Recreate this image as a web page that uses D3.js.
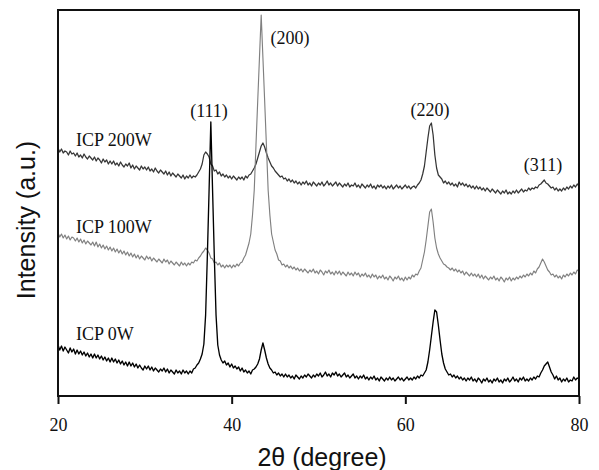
<!DOCTYPE html>
<html>
<head>
<meta charset="utf-8">
<script src="https://cdn.jsdelivr.net/npm/d3@7/dist/d3.min.js"></script>
<style>
  body { margin: 0; background: #fff; }
  .serif { font-family: "Times New Roman", "Liberation Serif", serif; }
  .sans { font-family: Arial, "Liberation Sans", sans-serif; }
</style>
</head>
<body>
<svg id="chart" width="599" height="470"></svg>
<script>
// 2-theta grid of the scan, 20..80 deg in 0.2 deg steps
var twoTheta = d3.range(301).map(function(i) { return +(20 + i * 0.2).toFixed(1); });

// intensities (a.u., stacked offsets included)
var icp200W = [248,
  244,247,243,245,244,241,245,242,243,240,
  243,239,241,238,242,239,237,240,238,236,
  239,235,238,236,233,237,234,236,232,235,
  232,235,231,233,230,234,231,229,232,230,
  233,228,231,227,230,228,226,230,227,229,
  226,229,225,227,224,228,225,223,226,224,
  222,225,221,224,220,223,221,219,222,220,
  218,221,217,220,218,221,218,220,219,221,
  224,227,232,241,244,242,239,232,230,225,
  226,222,224,220,222,219,221,218,220,217,
  220,218,216,219,217,219,216,220,218,221,
  222,225,228,232,238,244,250,253,249,243,
  238,234,230,228,225,223,221,219,220,217,
  218,215,217,214,216,213,215,212,214,211,
  214,212,215,211,213,210,214,212,210,213,
  211,214,210,212,215,211,213,210,212,214,
  210,213,211,209,212,210,213,209,211,210,
  213,209,211,208,212,210,208,211,209,212,
  208,210,207,211,209,211,208,210,207,210,
  208,211,207,209,211,208,210,207,209,211,
  208,210,207,209,210,208,211,213,216,222,
  230,244,258,270,273,261,241,228,221,219,
  217,213,215,212,214,211,213,210,212,209,
  214,211,213,210,212,209,211,208,210,207,
  210,207,209,206,208,205,208,206,204,207,
  205,203,206,204,202,205,203,206,202,204,
  202,205,203,206,203,205,207,204,206,205,
  208,206,208,207,209,208,211,212,214,216,
  213,212,210,208,209,206,208,205,207,205,
  208,206,209,207,210,208,211,209,212,210];

var icp100W = [163,
  159,162,158,161,157,160,156,159,158,155,
  158,154,157,153,156,152,155,153,151,154,
  150,154,149,152,148,151,147,150,146,149,
  145,148,144,147,143,146,142,145,141,144,
  140,143,139,142,138,141,137,140,138,136,
  140,137,139,135,138,136,134,137,135,133,
  137,134,136,132,135,133,131,134,132,130,
  134,131,133,130,133,131,134,133,136,135,
  138,140,143,145,148,146,143,138,137,133,
  134,131,133,129,131,128,131,129,131,128,
  131,129,132,130,133,134,138,141,147,153,
  162,181,206,251,295,338,381,338,295,251,
  206,181,162,154,146,142,136,135,131,132,
  129,131,128,130,127,129,126,128,125,127,
  124,127,125,123,126,124,127,123,125,122,
  126,124,121,125,123,126,122,124,121,125,
  122,125,121,124,122,120,124,121,123,120,
  124,121,123,119,122,120,123,119,121,118,
  122,119,121,117,120,118,121,117,119,116,
  120,118,115,119,117,120,116,118,115,119,
  116,119,117,121,119,122,121,125,128,136,
  144,156,170,184,187,174,158,148,142,138,
  135,132,131,129,128,126,128,125,127,124,
  126,123,125,121,124,122,120,123,120,122,
  119,122,118,121,117,120,118,116,119,117,
  120,116,118,115,119,117,114,118,116,119,
  115,118,116,119,117,120,118,121,119,122,
  120,123,121,125,123,127,129,133,137,134,
  130,126,124,121,122,119,121,118,120,117,
  121,119,122,120,123,121,124,122,126,125];

var icp0W = [51,
  46,50,45,49,46,43,48,44,47,42,
  46,42,45,41,44,40,43,39,42,38,
  42,38,41,37,40,36,39,35,38,34,
  38,34,37,33,36,32,35,31,34,30,
  34,30,33,29,32,28,31,28,26,30,
  27,30,26,29,25,28,26,24,27,25,
  28,24,27,23,26,24,22,26,23,25,
  22,26,23,25,22,25,23,27,28,31,
  33,37,42,52,81,140,206,274,206,140,
  81,51,41,36,33,35,31,33,29,32,
  28,30,27,29,25,28,24,26,23,25,
  22,26,27,29,32,37,46,53,46,38,
  32,28,26,23,24,21,23,20,22,19,
  22,19,21,18,20,17,21,19,17,20,
  18,21,19,22,20,18,21,19,22,20,
  23,19,21,24,20,22,19,23,21,24,
  20,22,19,21,23,19,21,18,20,22,
  18,20,17,20,18,21,17,19,16,19,
  17,20,16,18,15,19,17,15,18,16,
  19,16,18,15,17,19,16,18,15,17,
  19,16,18,16,19,17,20,18,21,20,
  23,26,34,46,60,74,86,84,71,56,
  42,33,27,24,21,22,19,21,18,20,
  17,19,16,18,15,18,16,19,15,17,
  14,18,16,13,17,15,18,14,16,13,
  17,15,18,14,16,13,17,15,18,14,
  16,19,15,17,14,18,16,19,15,17,
  15,18,16,19,17,20,19,23,26,30,
  32,34,29,24,21,17,20,16,18,14,
  17,15,18,14,16,15,19,16,18,17];

var xTicks = [20, 40, 60, 80];
var sampleNames = ["ICP 200W", "ICP 100W", "ICP 0W"];
var peakNames = ["(111)", "(200)", "(220)", "(311)"];

var width = 599, height = 470;
var margin = {top: 10, right: 20, bottom: 74, left: 58};

var x = d3.scaleLinear().domain([20, 80]).range([margin.left, width - margin.right]);
var y = d3.scaleLinear().domain([0, 386]).range([height - margin.bottom, margin.top]);

var svg = d3.select("#chart");

var line = d3.line()
    .x(function(d, i) { return x(twoTheta[i]); })
    .y(function(d) { return y(d); });

// traces: 200W dark grey, 100W light grey, 0W black on top
var traces = [
  {values: icp200W, color: "#353535", w: 1.25},
  {values: icp100W, color: "#808080", w: 1.15},
  {values: icp0W, color: "#000", w: 1.35}
];

svg.append("g")
  .selectAll("path")
  .data(traces)
  .enter().append("path")
    .attr("d", function(d) { return line(d.values); })
    .attr("fill", "none")
    .attr("stroke", function(d) { return d.color; })
    .attr("stroke-width", function(d) { return d.w; })
    .attr("stroke-linejoin", "round");

// frame
svg.append("rect")
    .attr("x", margin.left)
    .attr("y", margin.top)
    .attr("width", width - margin.left - margin.right)
    .attr("height", height - margin.top - margin.bottom)
    .attr("fill", "none")
    .attr("stroke", "#111")
    .attr("stroke-width", 2);

var xAxis = svg.append("g")
    .attr("transform", "translate(0," + (height - margin.bottom) + ")")
    .call(d3.axisBottom(x).tickValues(xTicks).tickSize(8).tickPadding(14));
xAxis.select(".domain").remove();
xAxis.selectAll(".tick line").attr("stroke", "#111").attr("stroke-width", 2);
xAxis.selectAll(".tick text")
    .attr("class", "serif")
    .style("font-size", "18px")
    .attr("fill", "#111");

// sample names on the left
var sampleLabelY = [146, 233, 340];
svg.append("g")
  .selectAll("text")
  .data(sampleNames)
  .enter().append("text")
    .attr("class", "serif")
    .attr("x", 76)
    .attr("y", function(d, i) { return sampleLabelY[i]; })
    .style("font-size", "18px")
    .attr("fill", "#111")
    .text(function(d) { return d; });

// reflection labels
var peakLabelPos = [[209, 117], [290, 44], [430, 116], [543, 171]];
svg.append("g")
  .selectAll("text")
  .data(peakNames)
  .enter().append("text")
    .attr("class", "serif")
    .attr("x", function(d, i) { return peakLabelPos[i][0]; })
    .attr("y", function(d, i) { return peakLabelPos[i][1]; })
    .attr("text-anchor", "middle")
    .style("font-size", "18px")
    .attr("fill", "#111")
    .text(function(d) { return d; });

// axis titles
svg.append("text")
    .attr("class", "sans")
    .attr("x", 322)
    .attr("y", 466)
    .attr("text-anchor", "middle")
    .style("font-size", "25px")
    .attr("fill", "#111")
    .text("2\u03b8 (degree)");

svg.append("text")
    .attr("class", "sans")
    .attr("transform", "translate(35,220) rotate(-90)")
    .attr("text-anchor", "middle")
    .style("font-size", "25px")
    .attr("fill", "#111")
    .text("Intensity (a.u.)");
</script>
</body>
</html>
